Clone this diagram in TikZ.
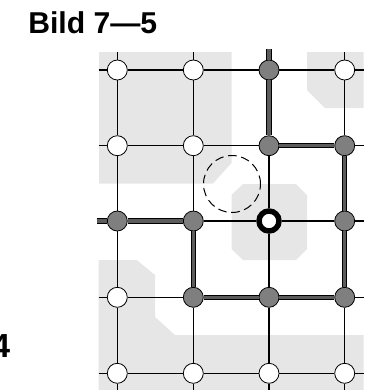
\documentclass[tikz,border=0pt]{standalone}
\usepackage{fontspec}
\setmainfont{Liberation Sans}
\definecolor{lightbg}{HTML}{E6E6E6}
\definecolor{nodegray}{HTML}{7F7F7F}
\definecolor{pathgray}{HTML}{5C5C5C}
\begin{document}
\begin{tikzpicture}[x=0.75pt,y=-0.75pt,
  bg/.style={fill=lightbg, draw=none},
  gridline/.style={black, line width=0.8pt},
  pathouter/.style={black, line width=4pt},
  pathinner/.style={pathgray, line width=2.6pt},
  wnode/.style={circle, draw=black, line width=0.6pt, fill=white, minimum size=15pt, inner sep=0pt},
  gnode/.style={wnode, fill=nodegray},
  snode/.style={circle, draw=black, line width=4.1pt, fill=white, minimum size=15pt, inner sep=0pt},
  dcirc/.style={circle, draw=black, line width=0.75pt, dash pattern=on 6.5pt off 3.5pt, minimum size=42.75pt, inner sep=0pt},
  lbl/.style={inner sep=0pt, font=\bfseries}
]
\useasboundingbox (0,0) rectangle (369,390);

% light gray regions
\fill[bg] (99,52) -- (231.5,52) -- (231.5,163) -- (213,183.5) -- (99,183.5) -- cycle;
\fill[bg] (307,52) -- (363.5,52) -- (363.5,108) -- (325,108) -- (307,90) -- cycle;
\fill[bg] (243,184) -- (296,184) -- (307,195) -- (307,249) -- (296,260) -- (243,260) -- (231.5,249) -- (231.5,195) -- cycle;
\fill[bg] (98.5,260) -- (136.7,260) -- (155,275) -- (155,317) -- (175,335) -- (363.5,335) -- (363.5,390) -- (98.5,390) -- cycle;

% title texts
\node[lbl, anchor=base west, font=\bfseries\fontsize{22.6}{27}\selectfont] (title) at (28,33.3) {Bild 7—5};
\node[lbl, anchor=base east, font=\bfseries\fontsize{25}{30}\selectfont] (four) at (10.5,357.3) {4};

% nodes
\node[wnode] (n11) at (117.3,70) {};
\node[wnode] (n12) at (193.3,70) {};
\node[gnode] (n13) at (269,70) {};
\node[wnode] (n14) at (344.7,70) {};
\node[wnode] (n21) at (117.3,145.7) {};
\node[wnode] (n22) at (193.3,145.7) {};
\node[gnode] (n23) at (269,145.7) {};
\node[gnode] (n24) at (344.7,145.7) {};
\node[gnode] (n31) at (117.3,221) {};
\node[gnode] (n32) at (193.3,221) {};
\node[snode] (n33) at (269,221) {};
\node[gnode] (n34) at (344.7,221) {};
\node[wnode] (n41) at (117.3,297.3) {};
\node[gnode] (n42) at (193.3,297.3) {};
\node[gnode] (n43) at (269,297.3) {};
\node[gnode] (n44) at (344.7,297.3) {};
\node[wnode] (n51) at (117.3,373.3) {};
\node[wnode] (n52) at (193.3,373.3) {};
\node[wnode] (n53) at (269,373.3) {};
\node[wnode] (n54) at (344.7,373.3) {};

% free ends
\coordinate (t1) at (117.3,52);
\coordinate (t2) at (193.3,52);
\coordinate (t3) at (269,49);
\coordinate (t4) at (344.7,52);
\coordinate (b1) at (117.3,390);
\coordinate (b2) at (193.3,390);
\coordinate (b3) at (269,390);
\coordinate (b4) at (344.7,390);
\coordinate (l1) at (98.5,70);
\coordinate (l2) at (98.5,145.7);
\coordinate (l3) at (96.5,221);
\coordinate (l4) at (98.5,297.3);
\coordinate (l5) at (98.5,373.3);
\coordinate (r1) at (363.5,70);
\coordinate (r2) at (363.5,145.7);
\coordinate (r3) at (363.5,221);
\coordinate (r4) at (363.5,297.3);
\coordinate (r5) at (363.5,373.3);

% thin grid lines
\draw[gridline] (t1) -- (n11) -- (n21) -- (n31) -- (n41) -- (n51) -- (b1);
\draw[gridline] (t2) -- (n12) -- (n22) -- (n32);
\draw[gridline] (n42) -- (n52) -- (b2);
\draw[gridline] (n23) -- (n33) -- (n43) -- (n53) -- (b3);
\draw[gridline] (t4) -- (n14) -- (n24);
\draw[gridline] (n44) -- (n54) -- (b4);
\draw[gridline] (l1) -- (n11) -- (n12) -- (n13) -- (n14) -- (r1);
\draw[gridline] (l2) -- (n21) -- (n22) -- (n23);
\draw[gridline] (n24) -- (r2);
\draw[gridline] (n32) -- (n33) -- (n34) -- (r3);
\draw[gridline] (l4) -- (n41) -- (n42);
\draw[gridline] (n44) -- (r4);
\draw[gridline] (l5) -- (n51) -- (n52) -- (n53) -- (n54) -- (r5);

% thick path
\foreach \s in {pathouter, pathinner}{
  \draw[\s] (t3) -- (n13) -- (n23) -- (n24) -- (n34) -- (n44) -- (n43) -- (n42) -- (n32);
  \draw[\s] (l3) -- (n31) -- (n32);
}

% dashed circle
\node[dcirc] (dc) at (232,184) {};
\end{tikzpicture}
\end{document}
